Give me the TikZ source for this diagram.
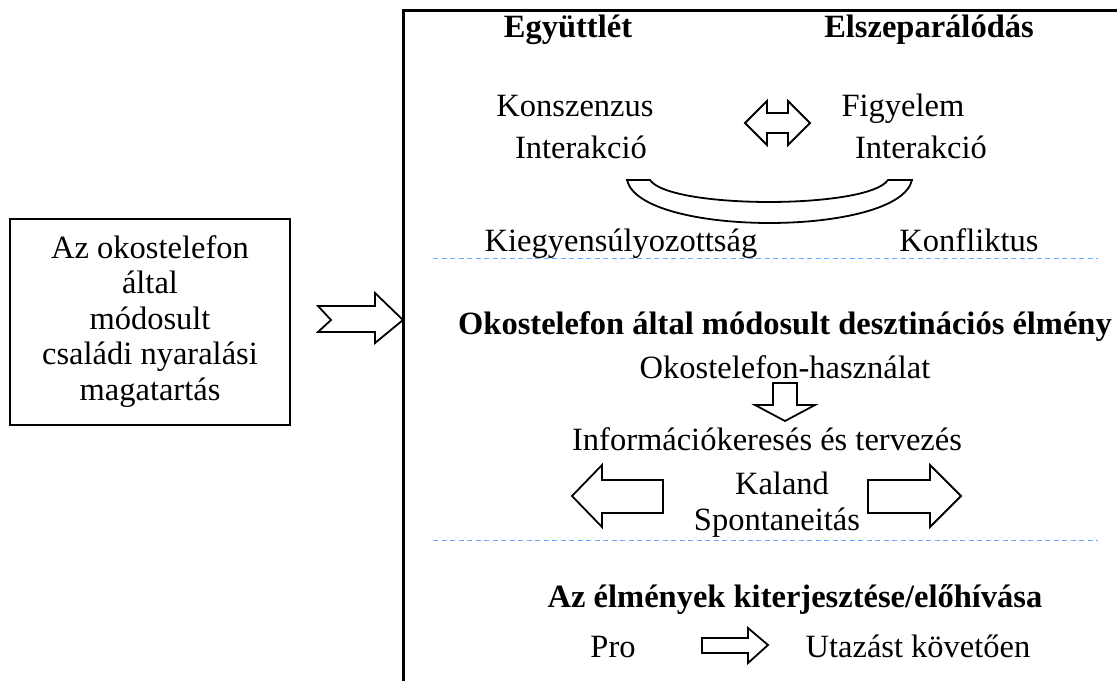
\documentclass[tikz,border=0pt]{standalone}
\usepackage{fontspec}
\setmainfont{Liberation Serif}
\tikzset{
  txt/.style={font=\fontsize{32.5}{35.5}\selectfont, inner sep=0pt, anchor=base},
  head/.style={txt, font=\fontsize{32.5}{35.5}\selectfont\bfseries},
  blockarrow/.style={draw, line width=1.8pt, fill=white, line join=miter},
  sep/.style={draw=blue!55!cyan!60, line width=1pt, dash pattern=on 5pt off 3.5pt},
}

\begin{document}
\begin{tikzpicture}[x=1pt, y=-1pt]
  \useasboundingbox (0,0) rectangle (1117,681);

  % Left box
  \node [draw, line width=2pt, minimum width=280, minimum height=206,
         inner sep=0pt] (csalad) at (150,322) {};
  \node [txt] (l1) at (150,258) {Az okostelefon};
  \node [txt] (l2) at (150,293.5) {által};
  \node [txt] (l3) at (150,329) {módosult};
  \node [txt] (l4) at (150,364.5) {családi nyaralási};
  \node [txt] (l5) at (150,400) {magatartás};

  % Frame (only left and top edges visible)
  \coordinate (fbl) at (403.5,681);
  \coordinate (ftl) at (403.5,10.5);
  \coordinate (ftr) at (1117,10.5);
  \draw [line width=2.4pt] (fbl) -- (ftl) -- (ftr);

  % Chevron arrow
  \draw [blockarrow] (318,306) -- (375,306) -- (375,293) -- (403,320)
        -- (375,343) -- (375,332) -- (318,332) -- (331,320) -- cycle;

  % Top part
  \node [head] (egyutt) at (568,37) {Együttlét};
  \node [head] (elsz) at (929,37) {Elszeparálódás};
  \node [txt] (konsz) at (575,116) {Konszenzus};
  \node [txt] (inter1) at (581,158) {Interakció};
  \node [txt] (figy) at (903,116) {Figyelem};
  \node [txt] (inter2) at (921,158) {Interakció};
  \node [txt] (kiegy) at (621,251) {Kiegyensúlyozottság};
  \node [txt] (konfl) at (969,251) {Konfliktus};

  % Double arrow
  \draw [blockarrow] (745,123) -- (767,101) -- (767,113) -- (788,113) -- (788,101)
        -- (810,123) -- (788,145) -- (788,133) -- (767,133) -- (767,145) -- cycle;

  % Curved band
  \draw [line width=1.8pt, fill=white] (627,180) -- (650,180)
        .. controls (670,209.3) and (868,209.3) .. (888,180) -- (912,180)
        .. controls (899,237.3) and (640,237.3) .. cycle;

  % Dashed line
  \coordinate (s1a) at (433,258);
  \coordinate (s1b) at (1098,258);
  \draw [sep] (s1a) -- (s1b);

  % Middle part
  \node [head] (elmeny) at (785,334) {Okostelefon által módosult desztinációs élmény};
  \node [txt] (haszn) at (785,378) {Okostelefon-használat};
  \node [txt] (info) at (767,450) {Információkeresés és tervezés};
  \node [txt] (kaland) at (782,494) {Kaland};
  \node [txt] (spont) at (777,530) {Spontaneitás};

  \draw [blockarrow] (773,383) -- (797,383) -- (797,405) -- (815,405) -- (785,421)
        -- (755,405) -- (773,405) -- cycle;
  \draw [blockarrow] (663,480) -- (602,480) -- (602,465) -- (572,496) -- (602,527)
        -- (602,513) -- (663,513) -- cycle;
  \draw [blockarrow] (868,480) -- (930,480) -- (930,465) -- (961,496) -- (930,527)
        -- (930,513) -- (868,513) -- cycle;

  % Dashed line
  \coordinate (s2a) at (433,540);
  \coordinate (s2b) at (1098,540);
  \draw [sep] (s2a) -- (s2b);

  % Bottom part
  \node [head] (kiterj) at (795,607) {Az élmények kiterjesztése/előhívása};
  \node [txt] (pro) at (613,657) {Pro};
  \node [txt] (utazas) at (918,657) {Utazást követően};
  \draw [blockarrow] (702,638) -- (748,638) -- (748,628) -- (768,645) -- (748,663)
        -- (748,653) -- (702,653) -- cycle;
\end{tikzpicture}
\end{document}
